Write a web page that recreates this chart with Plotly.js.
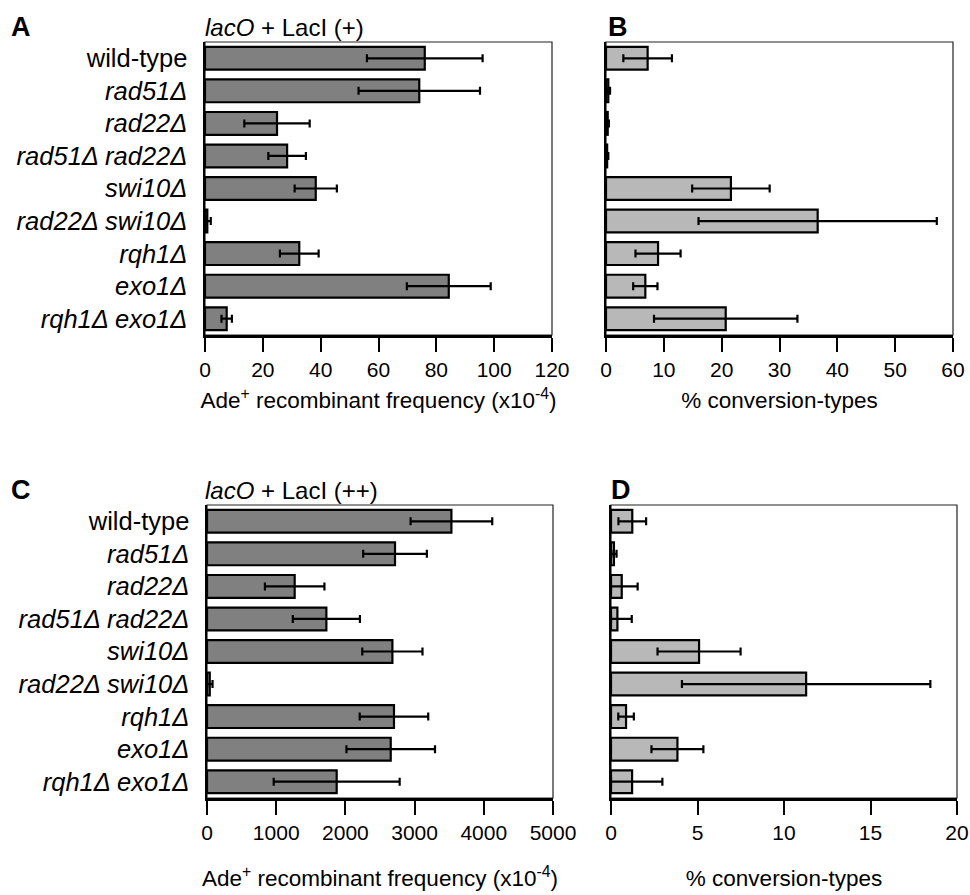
<!DOCTYPE html>
<html>
<head>
<meta charset="utf-8">
<script src="https://cdn.plot.ly/plotly-3.0.1.min.js"></script>
<style>html,body{margin:0;padding:0;background:#fff;} #chart{width:970px;height:895px;}</style>
</head>
<body>
<div id="chart"></div>
<script>
// ---- data ----
const genotypes = ['wild-type', 'rad51Δ', 'rad22Δ', 'rad51Δ rad22Δ', 'swi10Δ', 'rad22Δ swi10Δ', 'rqh1Δ', 'exo1Δ', 'rqh1Δ exo1Δ'];
const genotypeLabels = ['wild-type', '<i>rad51Δ</i>', '<i>rad22Δ</i>', '<i>rad51Δ rad22Δ</i>', '<i>swi10Δ</i>', '<i>rad22Δ swi10Δ</i>', '<i>rqh1Δ</i>', '<i>exo1Δ</i>', '<i>rqh1Δ exo1Δ</i>'];

const freqPlus = [76, 74.1, 24.9, 28.4, 38.3, 0.8, 32.6, 84.3, 7.5];
const freqPlusErr = [20, 21, 11.3, 6.5, 7.3, 1.2, 6.7, 14.5, 1.8];

const convPlus = [7.2, 0.4, 0.3, 0.2, 21.6, 36.6, 9.0, 6.8, 20.7];
const convPlusErr = [4.2, 0.3, 0.2, 0.2, 6.7, 20.6, 3.9, 2.1, 12.4];

const freqPlusPlus = [3532, 2717, 1267, 1725, 2679, 40, 2702, 2655, 1874];
const freqPlusPlusErr = [590, 460, 430, 485, 435, 40, 495, 640, 910];

const convPlusPlus = [1.23, 0.17, 0.62, 0.37, 5.09, 11.28, 0.87, 3.84, 1.22];
const convPlusPlusErr = [0.8, 0.15, 0.92, 0.83, 2.4, 7.18, 0.45, 1.5, 1.75];

// axis maxima and tick steps
const freqMax = [120, 5000], freqStep = [20, 1000];
const convMax = [60, 20], convStep = [10, 5];

// ---- styling ----
const W = 970, H = 895;
const FONT = 'Liberation Sans, Arial, Helvetica, sans-serif';
const px = x => x / W;
const py = y => 1 - y / H;

function barTrace(vals, errs, xa, ya, color) {
  return {
    type: 'bar', orientation: 'h',
    x: vals, y: genotypes, xaxis: xa, yaxis: ya,
    width: 0.7,
    marker: {color: color, line: {color: '#000', width: 2.2}},
    error_x: {type: 'data', symmetric: false, array: errs,
              arrayminus: errs.map((e, i) => Math.min(e, vals[i])),
              color: '#000', thickness: 2.2, width: 4},
    hoverinfo: 'x+y', showlegend: false
  };
}

const data = [
  barTrace(freqPlus, freqPlusErr, 'x', 'y', '#808080'),
  barTrace(convPlus, convPlusErr, 'x2', 'y2', '#b8b8b8'),
  barTrace(freqPlusPlus, freqPlusPlusErr, 'x3', 'y3', '#808080'),
  barTrace(convPlusPlus, convPlusPlusErr, 'x4', 'y4', '#b8b8b8')
];

function xAxis(dom, anchor, max, step, title, standoff) {
  return {
    domain: dom, anchor: anchor, range: [0, max],
    tickmode: 'linear', tick0: 0, dtick: step,
    ticks: 'outside', ticklen: 14, tickwidth: 2, tickcolor: '#000',
    showline: true, linewidth: 2.5, linecolor: '#000',
    showgrid: false, zeroline: false,
    tickfont: {family: FONT, size: 21, color: '#000'},
    title: {text: title, font: {family: FONT, size: 22.5, color: '#000'}, standoff: standoff},
    fixedrange: true
  };
}
function yAxis(dom, anchor, showLabels) {
  return {
    domain: dom, anchor: anchor, type: 'category',
    categoryorder: 'array', categoryarray: genotypes,
    range: [8.5, -0.5],
    tickmode: 'array', tickvals: genotypes, ticktext: genotypeLabels,
    showticklabels: showLabels, ticks: '',
    ticklabelstandoff: 10,
    showline: true, linewidth: 2.5, linecolor: '#000',
    showgrid: false, zeroline: false,
    tickfont: {family: FONT, size: 25.5, color: '#000'},
    fixedrange: true
  };
}

const yTop = [py(335), py(42)];
const yBot = [py(798), py(505)];
const freqTitle = 'Ade<sup>+</sup> recombinant frequency (x10<sup>-4</sup>)';
const convTitle = '% conversion-types';

function frame(xa, ya) {
  return {type: 'rect', xref: xa + ' domain', yref: ya + ' domain', x0: 0, x1: 1, y0: 0, y1: 1,
          line: {color: '#222', width: 1.2}, fillcolor: 'rgba(0,0,0,0)', layer: 'below'};
}

function letter(t, x, y) {
  return {text: '<b>' + t + '</b>', xref: 'paper', yref: 'paper', x: px(x), y: py(y),
          xanchor: 'left', yanchor: 'middle', showarrow: false,
          font: {family: FONT, size: 27, color: '#000'}};
}
function ptitle(t, x, y) {
  return {text: t, xref: 'paper', yref: 'paper', x: px(x), y: py(y),
          xanchor: 'left', yanchor: 'middle', showarrow: false,
          font: {family: FONT, size: 24, color: '#000'}};
}

const layout = {
  width: W, height: H,
  margin: {l: 0, r: 0, t: 0, b: 0},
  paper_bgcolor: '#fff', plot_bgcolor: '#fff',
  font: {family: FONT, color: '#000'},
  bargap: 0.3,
  xaxis: xAxis([px(205), px(552)], 'y', freqMax[0], freqStep[0], freqTitle, 13),
  yaxis: yAxis(yTop, 'x', true),
  xaxis2: xAxis([px(606), px(953)], 'y2', convMax[0], convStep[0], convTitle, 13),
  yaxis2: yAxis(yTop, 'x2', false),
  xaxis3: xAxis([px(207), px(553)], 'y3', freqMax[1], freqStep[1], freqTitle, 28),
  yaxis3: yAxis(yBot, 'x3', true),
  xaxis4: xAxis([px(611), px(957)], 'y4', convMax[1], convStep[1], convTitle, 28),
  yaxis4: yAxis(yBot, 'x4', false),
  shapes: [frame('x', 'y'), frame('x2', 'y2'), frame('x3', 'y3'), frame('x4', 'y4')],
  annotations: [
    letter('A', 9, 27), letter('B', 606, 27), letter('C', 9, 490), letter('D', 609, 490),
    ptitle('<i>lacO</i> + LacI (+)', 203, 27),
    ptitle('<i>lacO</i> + LacI (++)', 203, 490)
  ]
};

Plotly.newPlot('chart', data, layout, {displayModeBar: false, staticPlot: true});
</script>
</body>
</html>
